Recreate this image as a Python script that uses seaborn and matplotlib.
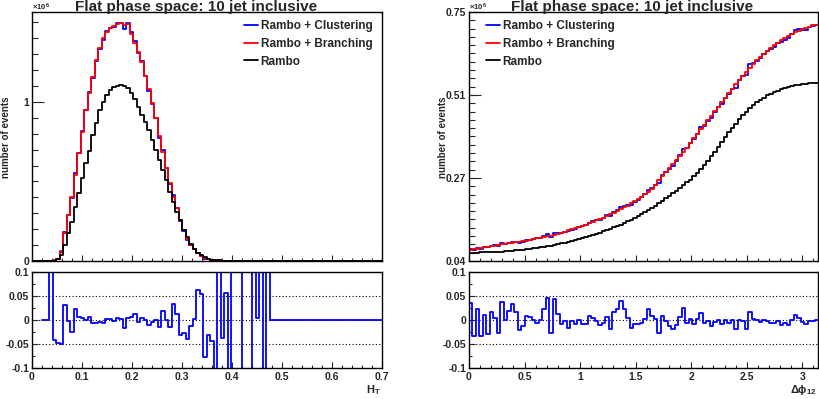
import numpy as np
import pandas as pd
import seaborn as sns
import matplotlib.pyplot as plt
from matplotlib.ticker import MultipleLocator, FixedLocator, FixedFormatter, FuncFormatter, NullFormatter

sns.set_style("ticks")
plt.rcParams["font.family"] = ["Liberation Sans", "DejaVu Sans"]
plt.rcParams["font.weight"] = "bold"
plt.rcParams["mathtext.fontset"] = "custom"
plt.rcParams["mathtext.rm"] = "Liberation Sans:bold"
plt.rcParams["mathtext.it"] = "Liberation Sans:bold"
plt.rcParams["mathtext.bf"] = "Liberation Sans:bold"

# --- H_T : 100 bins 0..0.7, counts in units of 1e6
ht_edges = np.linspace(0, 0.7, 101)
ht_branching = [
    0, 0, 0, 0, 0, 0.002, 0.005, 0.012, 0.060, 0.174,
    0.290, 0.405, 0.540, 0.677, 0.814, 0.950, 1.055, 1.160, 1.265, 1.338,
    1.400, 1.443, 1.463, 1.478, 1.490, 1.495, 1.484, 1.490, 1.430, 1.370,
    1.316, 1.254, 1.164, 1.080, 0.992, 0.898, 0.787, 0.688, 0.583, 0.493,
    0.400, 0.331, 0.258, 0.195, 0.140, 0.100, 0.073, 0.048, 0.031, 0.017,
    0.011, 0.007, 0.004, 0.003, 0.002, 0.0015, 0.001, 0.0007, 0.0005, 0.0004,
    0.0003, 0.0003, 0.0002, 0.0002, 0.0001, 0.0001, 0.0001, 0.0001, 0, 0,
    0, 0, 0, 0, 0, 0, 0, 0, 0, 0,
    0, 0, 0, 0, 0, 0, 0, 0, 0, 0,
    0, 0, 0, 0, 0, 0, 0, 0, 0, 0,
]
ht_rambo = [
    0, 0, 0, 0, 0, 0.001, 0.003, 0.010, 0.040, 0.100,
    0.174, 0.248, 0.342, 0.425, 0.520, 0.614, 0.694, 0.793, 0.866, 0.950,
    1.003, 1.044, 1.076, 1.093, 1.100, 1.107, 1.100, 1.086, 1.055, 1.017,
    0.971, 0.918, 0.876, 0.824, 0.761, 0.698, 0.635, 0.572, 0.509, 0.436,
    0.373, 0.310, 0.258, 0.195, 0.149, 0.107, 0.073, 0.052, 0.035, 0.023,
    0.015, 0.009, 0.006, 0.004, 0.003, 0.002, 0.0015, 0.001, 0.0007, 0.0004,
    0.0003, 0.0002, 0.0002, 0.0001, 0.0001, 0, 0, 0, 0, 0,
    0, 0, 0, 0, 0, 0, 0, 0, 0, 0,
    0, 0, 0, 0, 0, 0, 0, 0, 0, 0,
    0, 0, 0, 0, 0, 0, 0, 0, 0, 0,
]
# relative difference clustering vs branching (off-scale bins set to +-0.3)
ht_ratio = [
    np.nan, np.nan, np.nan, 0, 0, 0.3, -0.041, -0.048, -0.051, 0.032,
    -0.003, -0.024, 0.023, 0.007, 0.004, -0.001, 0.007, -0.007, -0.007, -0.005,
    -0.007, 0.002, 0.003, -0.003, 0.005, 0.002, -0.017, 0.004, 0.006, 0.012,
    -0.005, 0.004, -0.001, -0.010, -0.005, 0.000, -0.015, 0.019, -0.001, -0.014,
    0.033, 0.012, -0.032, -0.028, -0.039, -0.012, 0.002, 0.063, 0.055, -0.077,
    -0.032, -0.043, -0.3, 0.3, -0.037, 0.057, -0.3, 0.3, 0.3, 0.3,
    -0.3, -0.3, -0.3, 0.3, 0.005, 0.3, -0.3, 0.3, 0, 0,
    0, 0, 0, 0, 0, 0, 0, 0, 0, 0,
    0, 0, 0, 0, 0, 0, 0, 0, 0, 0,
    0, 0, 0, 0, 0, 0, 0, 0, 0, 0,
]

# --- delta phi_12 : 100 bins 0..pi, counts in units of 1e6
dphi_edges = np.linspace(0, np.pi, 101)
dphi_branching = [
    0.071, 0.073, 0.075, 0.077, 0.079, 0.081, 0.082, 0.084, 0.086, 0.0875,
    0.089, 0.090, 0.091, 0.093, 0.094, 0.096, 0.098, 0.100, 0.102, 0.105,
    0.107, 0.109, 0.111, 0.112, 0.115, 0.118, 0.121, 0.124, 0.127, 0.130,
    0.133, 0.137, 0.141, 0.144, 0.148, 0.152, 0.156, 0.160, 0.164, 0.169,
    0.173, 0.178, 0.182, 0.187, 0.193, 0.198, 0.204, 0.210, 0.216, 0.223,
    0.230, 0.237, 0.246, 0.257, 0.270, 0.282, 0.294, 0.306, 0.316, 0.328,
    0.340, 0.351, 0.363, 0.376, 0.390, 0.402, 0.415, 0.428, 0.441, 0.454,
    0.467, 0.480, 0.493, 0.506, 0.519, 0.531, 0.544, 0.556, 0.568, 0.580,
    0.591, 0.602, 0.612, 0.622, 0.631, 0.640, 0.648, 0.656, 0.663, 0.670,
    0.676, 0.682, 0.687, 0.692, 0.697, 0.701, 0.705, 0.708, 0.712, 0.714,
]
dphi_rambo = [
    0.0637, 0.0639, 0.0641, 0.0643, 0.0646, 0.0649, 0.0652, 0.0656, 0.0661, 0.0667,
    0.0675, 0.0684, 0.0693, 0.0703, 0.0714, 0.0725, 0.0737, 0.0749, 0.0762, 0.0776,
    0.0790, 0.0806, 0.0822, 0.0839, 0.0857, 0.0880, 0.0900, 0.0923, 0.0946, 0.0970,
    0.0995, 0.1020, 0.1050, 0.1080, 0.1110, 0.1140, 0.1175, 0.1210, 0.1245, 0.1280,
    0.132, 0.136, 0.140, 0.144, 0.1485, 0.153, 0.158, 0.163, 0.168, 0.174,
    0.180, 0.186, 0.192, 0.198, 0.205, 0.212, 0.219, 0.226, 0.233, 0.240,
    0.248, 0.256, 0.264, 0.272, 0.281, 0.291, 0.302, 0.314, 0.326, 0.339,
    0.352, 0.366, 0.380, 0.394, 0.407, 0.420, 0.432, 0.444, 0.455, 0.465,
    0.475, 0.484, 0.492, 0.499, 0.506, 0.512, 0.517, 0.522, 0.526, 0.530,
    0.533, 0.536, 0.539, 0.541, 0.543, 0.545, 0.546, 0.547, 0.548, 0.548,
]
dphi_ratio = [
    0.036, -0.033, 0.022, -0.033, 0.010, -0.030, 0.017, 0.005, -0.028, 0.037,
    0.000, 0.019, 0.034, 0.017, -0.021, -0.012, 0.008, 0.007, -0.001, -0.006,
    0.000, 0.022, 0.046, -0.028, 0.043, 0.012, -0.009, -0.002, -0.017, -0.003,
    -0.009, -0.001, -0.009, -0.008, 0.008, 0.005, -0.002, -0.011, -0.006, 0.007,
    -0.019, 0.017, 0.023, 0.039, 0.022, 0.005, -0.016, -0.009, -0.009, -0.007,
    0.003, 0.022, 0.008, 0.003, -0.028, 0.008, -0.002, -0.012, -0.019, -0.011,
    0.006, 0.026, -0.006, 0.003, -0.009, 0.003, 0.015, -0.006, -0.002, -0.012,
    -0.004, -0.001, -0.009, -0.001, -0.006, -0.001, -0.019, -0.001, -0.002, -0.019,
    0.017, 0.003, -0.001, -0.004, -0.001, -0.002, -0.007, -0.007, -0.002, -0.010,
    -0.007, -0.010, -0.001, 0.010, 0.005, -0.004, -0.008, -0.003, -0.002, 0.000,
]

labels = ["Rambo + Clustering", "Rambo + Branching", "Rambo"]
colors = ["#0000ff", "#ff0000", "#000000"]

W, H = 820, 399
fig = plt.figure(figsize=(W / 100, H / 100), dpi=100)


def box(x0, y0, x1, y1):
    return fig.add_axes([x0 / W, 1 - y1 / H, (x1 - x0) / W, (y1 - y0) / H])


def hstep(ax, edges, vals, color, label=None):
    vals = np.asarray(vals, dtype=float)
    df = pd.DataFrame({"x": edges, "y": np.append(vals, vals[-1])}).dropna()
    sns.lineplot(data=df, x="x", y="y", ax=ax, color=color, lw=1.3,
                 drawstyle="steps-post", estimator=None, sort=False,
                 label=label, legend=False)


def style(ax):
    for s in ax.spines.values():
        s.set_visible(True)
        s.set_linewidth(1.0)
        s.set_color("black")
    ax.set_xlabel("")
    ax.set_ylabel("")


def gfmt(v, pos):
    return "%g" % v


panels = [
    dict(edges=ht_edges, br=ht_branching, rb=ht_rambo, ratio=ht_ratio,
         xr=(0, 0.7), xmaj=0.1, xmin=0.02, x0=32, x1=382, leg=244, tx=196,
         xl="H$_{T}$"),
    dict(edges=dphi_edges, br=dphi_branching, rb=dphi_rambo, ratio=dphi_ratio,
         xr=(0, np.pi), xmaj=0.5, xmin=0.1, x0=469, x1=818, leg=486, tx=632,
         xl=r"$\Delta\phi_{12}$"),
]

for i, p in enumerate(panels):
    ax = box(p["x0"], 12, p["x1"], 261)
    rx = box(p["x0"], 272, p["x1"], 368)

    br = np.asarray(p["br"])
    cl = br * (1 + np.nan_to_num(np.asarray(p["ratio"], dtype=float)))
    hstep(ax, p["edges"], cl, colors[0], labels[0])
    hstep(ax, p["edges"], br, colors[1], labels[1])
    hstep(ax, p["edges"], p["rb"], colors[2], labels[2])
    style(ax)
    ax.set_xlim(*p["xr"])
    ax.xaxis.set_major_locator(MultipleLocator(p["xmaj"]))
    ax.xaxis.set_minor_locator(MultipleLocator(p["xmin"]))
    ax.xaxis.set_major_formatter(NullFormatter())
    ax.tick_params(axis="x", which="major", direction="in", length=4, width=0.8)
    ax.tick_params(axis="x", which="minor", direction="in", length=2, width=0.8)
    if i == 0:
        ax.set_ylim(0, 1.566)
        ax.yaxis.set_major_locator(FixedLocator([0, 1]))
        ax.yaxis.set_major_formatter(FixedFormatter(["0", "1"]))
        ax.yaxis.set_minor_locator(MultipleLocator(0.1))
    else:
        ax.set_ylim(0.04, 0.75)
        ax.yaxis.set_major_locator(FixedLocator([0.04, 0.2767, 0.5133, 0.75]))
        ax.yaxis.set_major_formatter(FixedFormatter(["0.04", "0.27", "0.51", "0.75"]))
        ax.yaxis.set_minor_locator(FixedLocator(np.linspace(0.04, 0.75, 31)))
    ax.tick_params(axis="y", which="major", direction="in", length=8.5, width=0.8,
                   labelsize=7.5, pad=2)
    ax.tick_params(axis="y", which="minor", direction="in", length=4.3, width=0.8)

    handles = ax.get_lines()[:3]
    ax.legend(handles, labels, loc="upper left", frameon=False,
              bbox_to_anchor=(p["leg"] / W, 1 - 20.5 / H), bbox_transform=fig.transFigure,
              borderpad=0, borderaxespad=0, handlelength=1.2, handletextpad=0.2,
              labelspacing=0.47, prop={"weight": "bold", "size": 8.5})

    # ratio panel
    hstep(rx, p["edges"], p["ratio"], colors[0])
    style(rx)
    for yv in (-0.05, 0, 0.05):
        rx.axhline(yv, color="black", ls=(0, (1, 2)), lw=0.8, zorder=0)
    rx.set_xlim(*p["xr"])
    rx.set_ylim(-0.1, 0.1)
    rx.xaxis.set_major_locator(MultipleLocator(p["xmaj"]))
    rx.xaxis.set_minor_locator(MultipleLocator(p["xmin"]))
    rx.xaxis.set_major_formatter(FuncFormatter(gfmt))
    rx.yaxis.set_major_locator(FixedLocator([-0.1, -0.05, 0, 0.05, 0.1]))
    rx.yaxis.set_major_formatter(FixedFormatter(["-0.1", "-0.05", "0", "0.05", "0.1"]))
    rx.yaxis.set_minor_locator(MultipleLocator(0.025))
    rx.tick_params(axis="both", which="major", direction="in", length=4, width=0.8,
                   labelsize=7.5, pad=2)
    rx.tick_params(axis="x", which="major", pad=3)
    rx.tick_params(axis="both", which="minor", direction="in", length=2.2, width=0.8)

    fig.text(p["tx"] / W, 1 - 11.5 / H, "Flat phase space: 10 jet inclusive",
             ha="center", va="baseline", fontsize=11, fontweight="bold")
    fig.text((p["x0"]) / W, 1 - 10.5 / H, "×10$^{6}$", ha="left", va="baseline",
             fontsize=5.5, fontweight="bold")
    fig.text((p["x1"] - 1) / W, 1 - 393 / H, p["xl"], ha="right", va="baseline",
             fontsize=8, fontweight="bold")

fig.text(6 / W, 1 - 137 / H, "number of events", rotation=90, ha="center",
         va="center", fontsize=7, fontweight="bold")
fig.text(443 / W, 1 - 137 / H, "number of events", rotation=90, ha="center",
         va="center", fontsize=7, fontweight="bold")

fig.savefig("out.png", dpi=100)
